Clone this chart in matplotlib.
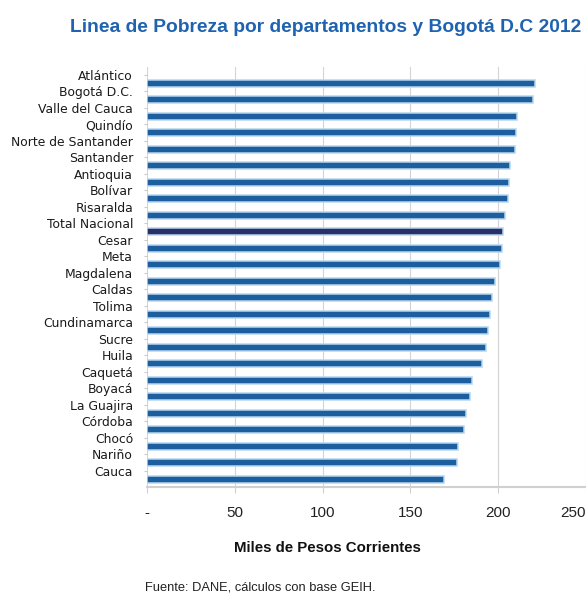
import matplotlib
matplotlib.use("Agg")
import matplotlib.pyplot as plt
from matplotlib.ticker import FixedLocator, FixedFormatter

# Linea de pobreza 2012 (miles de pesos corrientes)
departamentos = ["Atlántico", "Bogotá D.C.", "Valle del Cauca", "Quindío",
                 "Norte de Santander", "Santander", "Antioquia", "Bolívar",
                 "Risaralda", "Total Nacional", "Cesar", "Meta", "Magdalena",
                 "Caldas", "Tolima", "Cundinamarca", "Sucre", "Huila",
                 "Caquetá", "Boyacá", "La Guajira", "Córdoba", "Chocó",
                 "Nariño", "Cauca"]
valores = [221.0, 220.0, 210.5, 210.3, 209.5, 207.0, 206.0, 205.5, 203.6,
           202.7, 202.3, 201.0, 198.3, 196.4, 195.5, 194.0, 193.2, 190.7,
           185.0, 183.7, 181.8, 180.7, 176.9, 176.5, 169.0]
xticks = [0, 50, 100, 150, 200, 250]
xtick_labels = ["-", "50", "100", "150", "200", "250"]

FUENTE = ["Liberation Sans", "DejaVu Sans"]
AZUL = "#1c5e9e"
AZUL_BORDE = "#b5d6ef"
NAVY = "#2a2f6a"

fig = plt.figure(figsize=(5.86, 6.02), dpi=100)
ax = fig.add_axes([147 / 586, 1 - 487 / 602, 439 / 586, (487 - 66.75) / 602])

colores = [NAVY if d == "Total Nacional" else AZUL for d in departamentos]
pos = [i + 0.5 for i in range(len(departamentos))]
ax.barh(pos, valores, height=0.44, color=colores,
        edgecolor=AZUL_BORDE, linewidth=1.1, zorder=3)

ax.set_xlim(0, 250)
ax.set_ylim(24.97, -0.5)
ax.set_yticks(range(len(departamentos)))
ax.set_yticklabels(departamentos, fontsize=8.9, color="#1a1a1a")
ax.xaxis.set_major_locator(FixedLocator(xticks))
ax.xaxis.set_major_formatter(FixedFormatter(xtick_labels))
xlbls = ax.get_xticklabels()
for lbl in xlbls:
    lbl.set_family(FUENTE)
    lbl.set_fontsize(11)
    lbl.set_color("#222222")
# el ultimo rotulo se recorta al borde derecho
xlbls[-1].set_horizontalalignment("right")

ax.grid(axis="x", color="#d4d4d4", linewidth=0.8, zorder=0)
for s in ["top", "right", "left"]:
    ax.spines[s].set_visible(False)
ax.spines["bottom"].set_color("#d0d0d0")
ax.spines["bottom"].set_linewidth(1.5)
ax.tick_params(axis="y", length=2, color="#cccccc", pad=8)
ax.tick_params(axis="x", length=4, color="#d0d0d0", pad=10)

fig.text(326 / 586, 1 - 28 / 602,
         "Linea de Pobreza por departamentos y Bogotá D.C 2012",
         ha="center", va="center", family=FUENTE, fontsize=13.9,
         fontweight="bold", color="#1f63b0")
fig.text(327 / 586, 1 - 548 / 602, "Miles de Pesos Corrientes",
         ha="center", va="center", family=FUENTE, fontsize=10.8,
         fontweight="bold", color="#111111")
fig.text(145 / 586, 1 - 587 / 602, "Fuente: DANE, cálculos con base GEIH.",
         ha="left", va="center", family=FUENTE, fontsize=9.3,
         color="#222222")

fig.savefig("out.png", dpi=100)
